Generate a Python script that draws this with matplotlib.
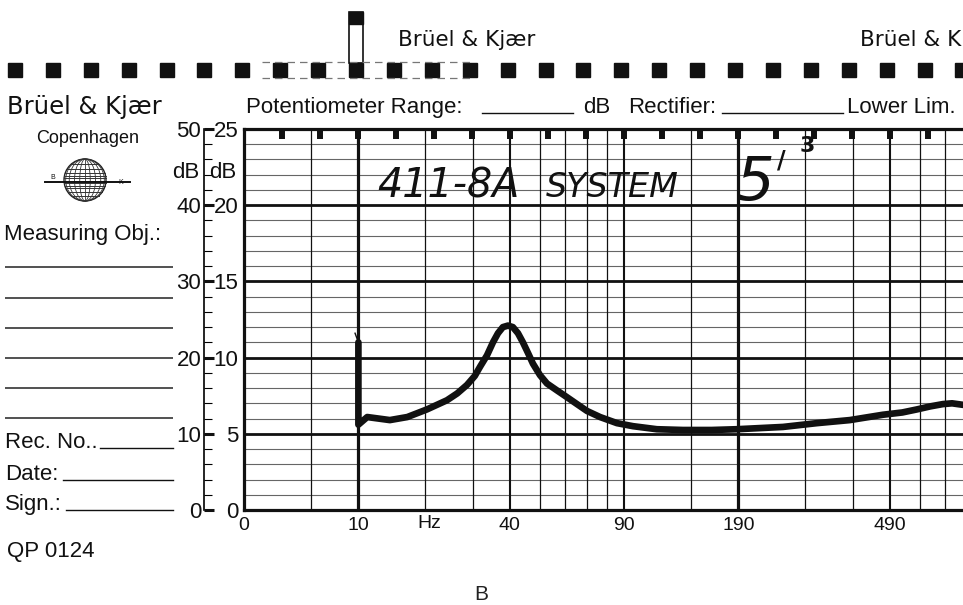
import numpy as np
import matplotlib
matplotlib.use("Agg")
import matplotlib.pyplot as plt
from matplotlib.patches import Rectangle, Ellipse, Circle

plt.rcParams["font.family"] = ["Liberation Sans", "DejaVu Sans"]

# response trace (Hz as printed, dB on the 0-25 scale)
freq_hz = [10.0, 10.0, 11.1, 14.2, 16.9, 20.3, 24.2, 26.4, 28.6, 30.5, 31.8, 33.6,
           35.2, 36.6, 38.0, 39.5, 41.0, 42.6, 44.2, 45.9, 47.6, 50.1, 52.7,
           56.6, 60.8, 65.2, 69.9, 76.5, 85.8, 95.6, 112, 133, 160, 188, 252,
           312, 383, 470, 530, 580, 630, 681, 720, 770]
level_db = [11.0, 5.6, 6.1, 5.9, 6.1, 6.6, 7.2, 7.65, 8.2, 8.8, 9.4, 10.15,
            11.0, 11.6, 12.0, 12.1, 12.0, 11.6, 11.0, 10.3, 9.6, 8.85, 8.3,
            7.85, 7.4, 6.95, 6.5, 6.1, 5.7, 5.5, 5.3, 5.25, 5.25, 5.3, 5.45,
            5.7, 5.9, 6.25, 6.4, 6.6, 6.8, 6.95, 7.0, 6.9]
# thin pen tip at the start of the sweep
tip_hz = [9.6, 10.0]
tip_db = [11.6, 11.0]

freq_ticks = [0, 10, 40, 90, 190, 490]
freq_labels = ["0", "10", "40", "90", "190", "490"]
db_ticks = [0, 5, 10, 15, 20, 25]
db_labels_right = ["0", "5", "10", "15", "20", "25"]
db_labels_left = ["0", "10", "20", "30", "40", "50"]

# paper grid (printed scale is offset by 10 Hz from the log decade)
grid_thick = [10, 190]
grid_medium = [40, 90, 490]
grid_thin = [5, 20, 30, 50, 60, 70, 80, 140, 290, 390, 590, 690]

W, H = 963, 605
INK = "#111111"


def box(x0, y0, x1, y1):
    # pixel box (top-left origin) -> figure fraction rect
    return [x0 / W, 1 - y1 / H, (x1 - x0) / W, (y1 - y0) / H]


fig = plt.figure(figsize=(W / 100, H / 100), dpi=100)

# ---- chart area
ax = fig.add_axes(box(244, 129, 963, 510))
ax.set_xscale("function", functions=(lambda f: np.log10(np.asarray(f) + 10.0),
                                      lambda u: 10.0 ** np.asarray(u) - 10.0))
ax.set_xlim(0, 770)
ax.set_ylim(0, 25)

for d in range(26):
    if d % 5 == 0:
        ax.axhline(d, color=INK, lw=2.0, zorder=1)
    else:
        ax.axhline(d, color="#666666", lw=0.8, zorder=1)
for f in grid_thin:
    ax.axvline(f, color=INK, lw=0.9, zorder=1)
for f in grid_medium:
    ax.axvline(f, color=INK, lw=1.5, zorder=1)
for f in grid_thick:
    ax.axvline(f, color=INK, lw=2.3, zorder=1)

# 1/10-decade marks hanging from the top edge
mark_hz = 10 ** (1.3 + 0.1 * np.arange(-2, 16)) - 10
ax.vlines(mark_hz, 24.35, 25, color=INK, lw=4.3, zorder=2)

ax.plot(freq_hz, level_db, color=INK, lw=4.8, solid_capstyle="round",
        solid_joinstyle="round", zorder=3)
ax.plot(tip_hz, tip_db, color=INK, lw=1.0, zorder=3)

for s in ["left", "bottom", "top"]:
    ax.spines[s].set_linewidth(2.3)
    ax.spines[s].set_color(INK)
ax.spines["right"].set_visible(False)

ax.set_xticks(freq_ticks)
ax.set_xticklabels(freq_labels)
ax.set_xticks([], minor=True)
ax.set_yticks(db_ticks)
ax.set_yticklabels(db_labels_right)
ax.tick_params(axis="x", length=0, pad=5, labelsize=14, colors=INK)
ax.tick_params(axis="y", length=0, pad=4, labelsize=16, colors=INK)

# ---- dB scale bar left of the chart
sc = fig.add_axes(box(204, 129, 204.01, 510))
sc.set_ylim(0, 25)
sc.patch.set_visible(False)
for s in ["right", "bottom", "top"]:
    sc.spines[s].set_visible(False)
sc.spines["left"].set_linewidth(1.2)
sc.set_xticks([])
sc.set_yticks(db_ticks)
sc.set_yticklabels(db_labels_left)
sc.set_yticks(range(26), minor=True)
sc.tick_params(axis="y", which="major", direction="in", length=7, width=2.2,
               pad=2, labelsize=16, colors=INK)
sc.tick_params(axis="y", which="minor", direction="in", length=6, width=0.8)

# ---- printed form around the chart (pixel coordinates)
bg = fig.add_axes([0, 0, 1, 1], zorder=5)
bg.set_xlim(0, W)
bg.set_ylim(H, 0)
bg.axis("off")
bg.patch.set_visible(False)

# sprocket holes and paper marks along the top
for k in range(-9, 17):
    cx = 356 + 37.9 * k
    bg.add_patch(Rectangle((cx - 7, 63), 14, 14, color=INK))
bg.add_patch(Rectangle((349, 12), 14, 51, fill=False, ec=INK, lw=1.2))
bg.add_patch(Rectangle((349, 12), 14, 12, color=INK))
bg.plot([262, 470], [62, 62], color="#777777", lw=0.9, ls=(0, (6, 4)))
bg.plot([262, 470], [78, 78], color="#777777", lw=0.9, ls=(0, (6, 4)))
bg.text(398, 46, "Brüel & Kjær", fontsize=15.5, family="DejaVu Sans", color=INK)
bg.text(860, 46, "Brüel & K", fontsize=15.5, family="DejaVu Sans", color=INK)

# header line
bg.text(7, 114, "Brüel & Kjær", fontsize=17.5, family="DejaVu Sans", color=INK)
bg.text(246, 113, "Potentiometer Range:", fontsize=16, color=INK)
bg.plot([482, 573], [113, 113], color=INK, lw=1)
bg.text(583, 113, "dB", fontsize=16, color=INK)
bg.text(628, 113, "Rectifier:", fontsize=16, color=INK)
bg.plot([722, 843], [113, 113], color=INK, lw=1)
bg.text(847, 113, "Lower Lim.", fontsize=16, color=INK)

# left column
bg.text(88, 143, "Copenhagen", fontsize=13, ha="center", color=INK)
gx, gy, gr = 85, 180, 21
bg.add_patch(Circle((gx, gy), gr, fill=False, ec="#222222", lw=1.0))
for w in [0.25, 0.5, 0.75, 0.92]:
    bg.add_patch(Ellipse((gx, gy), 2 * gr * w, 2 * gr, fill=False, ec="#333333", lw=0.6))
bg.plot([gx, gx], [gy - gr, gy + gr], color="#333333", lw=0.6)
for dy in [-16, -11, -7, -4.5, -2, 0.5, 3, 5.5, 8, 12, 16]:
    half = np.sqrt(gr ** 2 - dy ** 2)
    bg.plot([gx - half, gx + half], [gy + dy, gy + dy], color="#333333", lw=0.7)
bg.plot([45, 130], [182, 182], color=INK, lw=1.4)
bg.text(53, 179, "B", fontsize=5, ha="center", color=INK)
bg.text(121, 184, "K", fontsize=5, ha="center", color=INK)

bg.text(4, 240, "Measuring Obj.:", fontsize=16, color=INK)
bg.hlines([267, 298, 328, 358, 388, 418], 5, 173, color="#333333", lw=1.2)
bg.text(5, 448, "Rec. No..", fontsize=16, color=INK)
bg.plot([100, 173], [448, 448], color=INK, lw=1)
bg.text(5, 480, "Date:", fontsize=16, color=INK)
bg.plot([63, 173], [480, 480], color=INK, lw=1)
bg.text(5, 510, "Sign.:", fontsize=16, color=INK)
bg.plot([66, 173], [510, 510], color=INK, lw=1)
bg.text(7, 557, "QP 0124", fontsize=16, color=INK)

bg.text(186, 172, "dB", fontsize=16, ha="center", va="center", color=INK)
bg.text(223, 172, "dB", fontsize=16, ha="center", va="center", color=INK)
bg.text(429, 523, "Hz", fontsize=14, ha="center", va="center", color=INK)
bg.text(481, 594, "B", fontsize=15, ha="center", va="center", color="#222222")

# handwritten note on the chart
bg.text(377, 198, "411-8A", fontsize=28.5, style="oblique", family="DejaVu Sans", color=INK)
bg.text(546, 197, "SYSTEM", fontsize=24, style="oblique", family="DejaVu Sans", color=INK)
bg.text(736, 200, "5", fontsize=44, style="oblique", family="DejaVu Sans", color=INK)
bg.text(777, 168, "/", fontsize=17, weight="bold", family="DejaVu Sans", color=INK)
bg.text(800, 136, "3", fontsize=16, weight="bold", family="DejaVu Sans", va="top", color=INK)

fig.savefig("out.png", dpi=100)
